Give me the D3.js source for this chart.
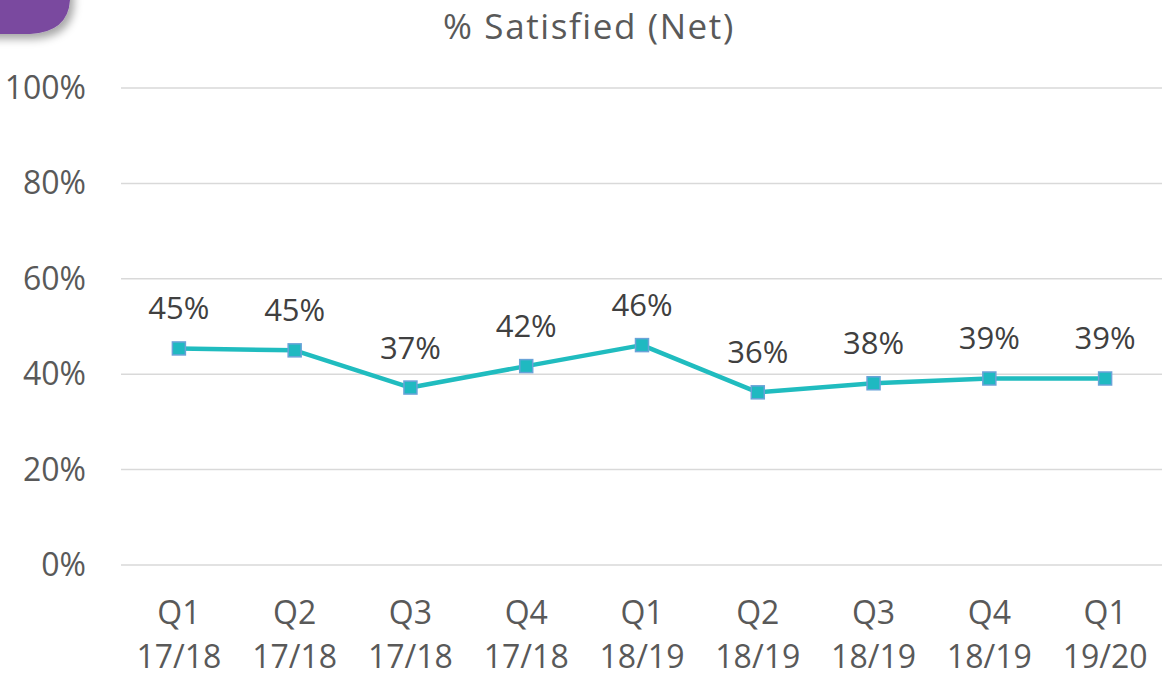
<!DOCTYPE html>
<html><head><meta charset="utf-8">
<script src="https://cdn.jsdelivr.net/npm/d3@7"></script>
<style>body{margin:0;background:#fff;}svg{display:block;font-family:"Open Sans",sans-serif;}</style>
</head><body>
<svg id="c" width="1162" height="676"></svg>
<script>
const quarters = ["Q1","Q2","Q3","Q4","Q1","Q2","Q3","Q4","Q1"];
const years = ["17/18","17/18","17/18","17/18","18/19","18/19","18/19","18/19","19/20"];
const values = [45.4, 45.0, 37.2, 41.7, 46.1, 36.2, 38.1, 39.1, 39.1];
const labels = ["45%","45%","37%","42%","46%","36%","38%","39%","39%"];
const yTicks = [0,20,40,60,80,100];
const title = "% Satisfied (Net)";

const svg = d3.select("#c");
const cats = d3.range(values.length);
const x = d3.scaleBand().domain(cats).range([121,1163]);
const y = d3.scaleLinear().domain([0,100]).range([565,88]);

const defs = svg.append("defs");
const f = defs.append("filter").attr("id","sh").attr("x","-50%").attr("y","-50%").attr("width","200%").attr("height","200%");
f.append("feDropShadow").attr("dx",4).attr("dy",5).attr("stdDeviation",4).attr("flood-color","#000").attr("flood-opacity",0.35);
svg.append("path").attr("d","M-40,-40 L70,-40 L70,0 Q68,32 30,34 L-40,34 Z").attr("fill","#7a4a9f").attr("filter","url(#sh)");

svg.append("g").selectAll("line").data(yTicks).join("line")
  .attr("x1",121).attr("x2",1162).attr("y1",d=>y(d)).attr("y2",d=>y(d))
  .attr("stroke","#d9d9d9").attr("stroke-width",1.5);

svg.append("g").selectAll("text").data(yTicks).join("text")
  .attr("x",86).attr("y",d=>y(d)+11).attr("text-anchor","end")
  .attr("font-size",32).attr("fill","#595959").text(d=>d+"%");

const cx = d=>x(d)+x.bandwidth()/2;
const xl = svg.append("g").selectAll("text").data(cats).join("text")
  .attr("text-anchor","middle").attr("font-size",32).attr("fill","#595959");
xl.append("tspan").attr("x",cx).attr("y",624).text(d=>quarters[d]);
xl.append("tspan").attr("x",cx).attr("y",668).text(d=>years[d]);

svg.append("text").attr("x",589).attr("y",39).attr("text-anchor","middle")
  .attr("font-size",35).attr("letter-spacing",1.6).attr("fill","#595959").text(title);

svg.append("path").datum(cats)
  .attr("d",d3.line().x(cx).y(d=>y(values[d])))
  .attr("fill","none").attr("stroke","#20bcbf").attr("stroke-width",4.5).attr("stroke-linejoin","round");

svg.append("g").selectAll("rect").data(cats).join("rect")
  .attr("x",d=>cx(d)-6.5).attr("y",d=>y(values[d])-6.5).attr("width",13).attr("height",13)
  .attr("fill","#1fb9c1").attr("stroke","#6aa3d8").attr("stroke-width",1.5);

svg.append("g").selectAll("text").data(cats).join("text")
  .attr("x",cx).attr("y",d=>y(values[d])-29).attr("text-anchor","middle")
  .attr("font-size",31).attr("fill","#404040").text(d=>labels[d]);
</script>
</body></html>
